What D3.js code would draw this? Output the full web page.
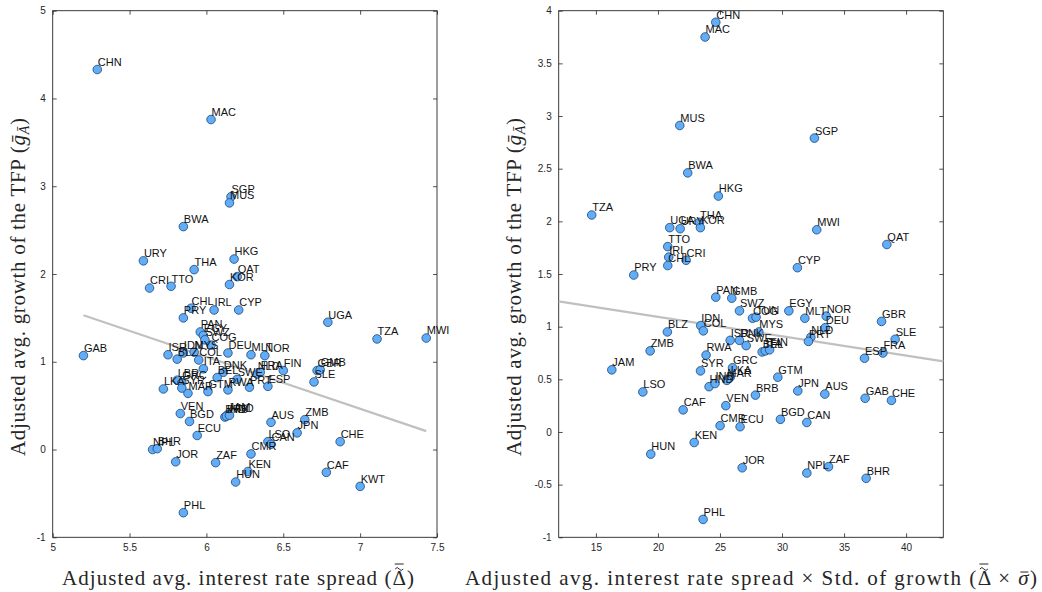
<!DOCTYPE html>
<html><head><meta charset="utf-8">
<script src="https://cdn.jsdelivr.net/npm/d3@7"></script>
<style>body{margin:0;background:#fff}svg{display:block}</style>
</head><body><svg id="c" width="1042" height="592"></svg>
<script>
const leftCodes = ["CHN","MAC","SGP","MUS","BWA","URY","HKG","THA","QAT","KOR","CRI","TTO","CHL","IRL","CYP","PRY","UGA","TZA","MWI","GAB","PAN","EGY","SWZ","COG","MYS","IDN","ISR","BLZ","COL","DEU","MLT","NOR","ITA","DNK","BEL","SWE","NLD","FRA","FIN","GBR","GMB","SLE","LBR","GRC","LKA","SYR","MAR","GTM","RWA","PRT","ESP","VEN","BGD","JAM","BRB","IND","HND","AUS","ZMB","JPN","ECU","CHE","LSO","CAN","CMR","NPL","BHR","JOR","ZAF","KEN","HUN","CAF","KWT","PHL"];
const leftX = [5.29,6.03,6.16,6.15,5.85,5.59,6.18,5.92,6.20,6.15,5.63,5.77,5.90,6.05,6.21,5.85,6.79,7.11,7.43,5.20,5.96,5.98,5.99,6.03,5.92,5.85,5.75,5.81,5.95,6.14,6.29,6.38,5.98,6.11,6.07,6.20,6.33,6.35,6.50,6.72,6.74,6.70,5.81,5.84,5.72,5.84,5.88,6.01,6.14,6.28,6.40,5.83,5.89,6.14,6.12,6.13,6.15,6.42,6.64,6.59,5.94,6.87,6.40,6.42,6.29,5.65,5.68,5.80,6.06,6.27,6.19,6.78,7.00,5.85];
const leftY = [4.33,3.76,2.88,2.81,2.54,2.15,2.17,2.05,1.97,1.88,1.84,1.86,1.61,1.59,1.59,1.50,1.45,1.26,1.27,1.07,1.34,1.30,1.25,1.19,1.11,1.10,1.08,1.03,1.02,1.10,1.08,1.07,0.92,0.88,0.82,0.80,0.86,0.88,0.90,0.90,0.91,0.77,0.79,0.76,0.69,0.70,0.64,0.66,0.68,0.71,0.72,0.41,0.32,0.40,0.37,0.38,0.39,0.31,0.34,0.19,0.16,0.09,0.09,0.06,-0.05,0.00,0.01,-0.14,-0.15,-0.25,-0.37,-0.26,-0.42,-0.72];

const rightCodes = ["CHN","MAC","MUS","SGP","BWA","HKG","TZA","UGA","URY","THA","KOR","MWI","QAT","TTO","IRL","CHL","CRI","PRY","CYP","PAN","GMB","SWZ","COG","TUN","EGY","MLT","NOR","DEU","GBR","NLD","PRT","SLE","FRA","ESP","IDN","COL","BLZ","ZMB","JAM","LSO","ISR","DNK","MYS","SWE","BEL","ITA","FIN","RWA","SYR","GRC","LKA","MAR","HND","IND","GTM","BRB","JPN","AUS","GAB","CHE","CAF","VEN","CMR","ECU","BGD","CAN","KEN","HUN","JOR","NPL","ZAF","BHR","PHL"];
const rightX = [24.66,23.80,21.76,32.61,22.40,24.87,14.66,20.95,21.79,23.35,23.42,32.80,38.45,20.79,20.87,20.79,22.27,18.05,31.24,24.66,25.95,26.57,27.62,27.91,30.55,31.84,33.56,33.48,38.02,32.32,32.13,39.12,38.13,36.65,23.45,23.66,20.76,19.37,16.28,18.78,25.82,26.57,28.13,27.11,28.40,28.65,29.00,23.88,23.43,26.01,25.82,25.55,24.12,24.60,29.66,27.86,31.27,33.45,36.70,38.82,22.03,25.47,25.01,26.62,29.87,32.00,22.92,19.42,26.79,32.00,33.75,36.78,23.64];
const rightY = [3.89,3.75,2.91,2.79,2.46,2.24,2.06,1.94,1.93,1.99,1.94,1.92,1.78,1.76,1.66,1.58,1.63,1.49,1.56,1.28,1.27,1.15,1.08,1.09,1.15,1.08,1.10,0.99,1.05,0.90,0.86,0.88,0.75,0.70,1.01,0.96,0.95,0.77,0.59,0.38,0.87,0.87,0.95,0.82,0.76,0.77,0.78,0.73,0.58,0.61,0.52,0.49,0.43,0.46,0.52,0.35,0.39,0.36,0.32,0.30,0.21,0.25,0.06,0.05,0.12,0.09,-0.10,-0.21,-0.34,-0.39,-0.33,-0.44,-0.83];

const leftFitX = [5.2, 7.43], leftFitY = [1.53, 0.21];
const rightFitX = [12, 43], rightFitY = [1.24, 0.67];

const leftXTicks = [5,5.5,6,6.5,7,7.5];
const leftYTicks = [-1,0,1,2,3,4,5];
const rightXTicks = [15,20,25,30,35,40];
const rightYTicks = [-1,-0.5,0,0.5,1,1.5,2,2.5,3,3.5,4];

const svg = d3.select("#c");
svg.append("rect").attr("width",1042).attr("height",592).attr("fill","#fff");

function panel(o){
  const x = d3.scaleLinear().domain(o.xd).range([o.x0,o.x1]);
  const y = d3.scaleLinear().domain(o.yd).range([o.y1,o.y0]);
  const g = svg.append("g");
  const tl = 4;
  const axc = "#262626";
  g.append("g").attr("transform",`translate(0,${o.y1})`)
    .call(d3.axisBottom(x).tickValues(o.xt).tickSize(-tl).tickPadding(7).tickFormat(d=>String(d)))
    .call(s=>{s.select(".domain").remove();});
  g.append("g").attr("transform",`translate(0,${o.y0})`)
    .call(d3.axisTop(x).tickValues(o.xt).tickSize(-tl).tickFormat(""))
    .call(s=>{s.select(".domain").remove();});
  g.append("g").attr("transform",`translate(${o.x0},0)`)
    .call(d3.axisLeft(y).tickValues(o.yt).tickSize(-tl).tickPadding(7).tickFormat(d=>String(d)))
    .call(s=>{s.select(".domain").remove();});
  g.append("g").attr("transform",`translate(${o.x1},0)`)
    .call(d3.axisRight(y).tickValues(o.yt).tickSize(-tl).tickFormat(""))
    .call(s=>{s.select(".domain").remove();});
  g.selectAll(".tick line").attr("stroke",axc).attr("stroke-width",0.8);
  g.selectAll(".tick text").attr("fill",axc).style("font-family","'Liberation Sans',Arial,sans-serif").style("font-size","10px");
  g.append("rect").attr("x",o.x0).attr("y",o.y0).attr("width",o.x1-o.x0).attr("height",o.y1-o.y0)
    .attr("fill","none").attr("stroke",axc).attr("stroke-width",0.9);
  g.append("line").attr("x1",x(o.fx[0])).attr("y1",y(o.fy[0])).attr("x2",x(o.fx[1])).attr("y2",y(o.fy[1]))
    .attr("stroke","#c0c0c0").attr("stroke-width",2.2);
  const data = o.codes.map((c,i)=>({c, vx:o.xs[i], vy:o.ys[i]}));
  g.selectAll("circle.pt").data(data).join("circle").attr("class","pt")
    .attr("cx",d=>x(d.vx)).attr("cy",d=>y(d.vy)).attr("r",4.3)
    .attr("fill","#62adf7").attr("stroke","#1c4678").attr("stroke-width",0.8);
  g.selectAll("text.lb").data(data).join("text").attr("class","lb")
    .attr("x",d=>x(d.vx)+0.5).attr("y",d=>y(d.vy)-3.6)
    .style("font-family","'Liberation Sans',Arial,sans-serif").style("font-size","11px").attr("fill","#111")
    .text(d=>d.c);
  return {x,y};
}

panel({x0:52.7,x1:437,y0:10.7,y1:537.3,xd:[5,7.5],yd:[-1,5],xt:leftXTicks,yt:leftYTicks,
  codes:leftCodes,xs:leftX,ys:leftY,fx:leftFitX,fy:leftFitY});
panel({x0:558.7,x1:943.3,y0:10.7,y1:537.3,xd:[12,43],yd:[-1,4],xt:rightXTicks,yt:rightYTicks,
  codes:rightCodes,xs:rightX,ys:rightY,fx:rightFitX,fy:rightFitY});

const serif = "'Liberation Serif','Times New Roman',serif";
const tc = "#262626";
function ylab(cx,cy){
  const t = svg.append("text").attr("transform",`translate(${cx},${cy}) rotate(-90)`)
    .attr("text-anchor","middle").style("font-family",serif).style("font-size","21px").attr("fill",tc)
    .attr("textLength",338).attr("lengthAdjust","spacing");
  t.append("tspan").text("Adjusted avg. growth of the TFP (");
  t.append("tspan").style("font-style","italic").text("g\u0304");
  t.append("tspan").attr("dy",4).style("font-size","14px").style("font-style","italic").text("A\u0304");
  t.append("tspan").attr("dy",-4).text(")");
}
ylab(25,287);
ylab(521,287);

const baseY = 585;
function marks(sel, idx, tilde, bars){
  const e = sel.node().getExtentOfChar(idx);
  const cx = e.x + e.width/2;
  if(tilde){
    const w = 8, ty = baseY - 17;
    svg.append("path").attr("d",`M${cx-w/2},${ty+1} q${w/4},-3 ${w/2},0 t${w/2},0`)
      .attr("fill","none").attr("stroke",tc).attr("stroke-width",1);
  }
  bars.forEach(by=>{
    svg.append("line").attr("x1",cx-4.5).attr("x2",cx+4.5).attr("y1",baseY-by).attr("y2",baseY-by)
      .attr("stroke",tc).attr("stroke-width",1);
  });
}

const t1 = "Adjusted avg. interest rate spread (\u0394)";
const xl1 = svg.append("text").attr("x",238).attr("y",baseY).attr("text-anchor","middle")
  .style("font-family",serif).style("font-size","21px").attr("fill",tc)
  .attr("textLength",352).attr("lengthAdjust","spacing").text(t1);
marks(xl1, t1.indexOf("\u0394"), true, [21]);

const t2a = "Adjusted avg. interest rate spread \u00d7 Std. of growth (\u0394 \u00d7 ";
const xl2 = svg.append("text").attr("x",751).attr("y",baseY).attr("text-anchor","middle")
  .style("font-family",serif).style("font-size","21px").attr("fill",tc)
  .attr("textLength",572).attr("lengthAdjust","spacing");
xl2.append("tspan").text(t2a);
xl2.append("tspan").style("font-style","italic").text("\u03c3");
xl2.append("tspan").text(")");
marks(xl2, t2a.indexOf("\u0394"), true, [21]);
{
  const e = xl2.node().getExtentOfChar(t2a.length);
  const cx = e.x + e.width/2 + 1;
  svg.append("line").attr("x1",cx-4).attr("x2",cx+4).attr("y1",baseY-13).attr("y2",baseY-13)
    .attr("stroke",tc).attr("stroke-width",1);
}
</script></body></html>
